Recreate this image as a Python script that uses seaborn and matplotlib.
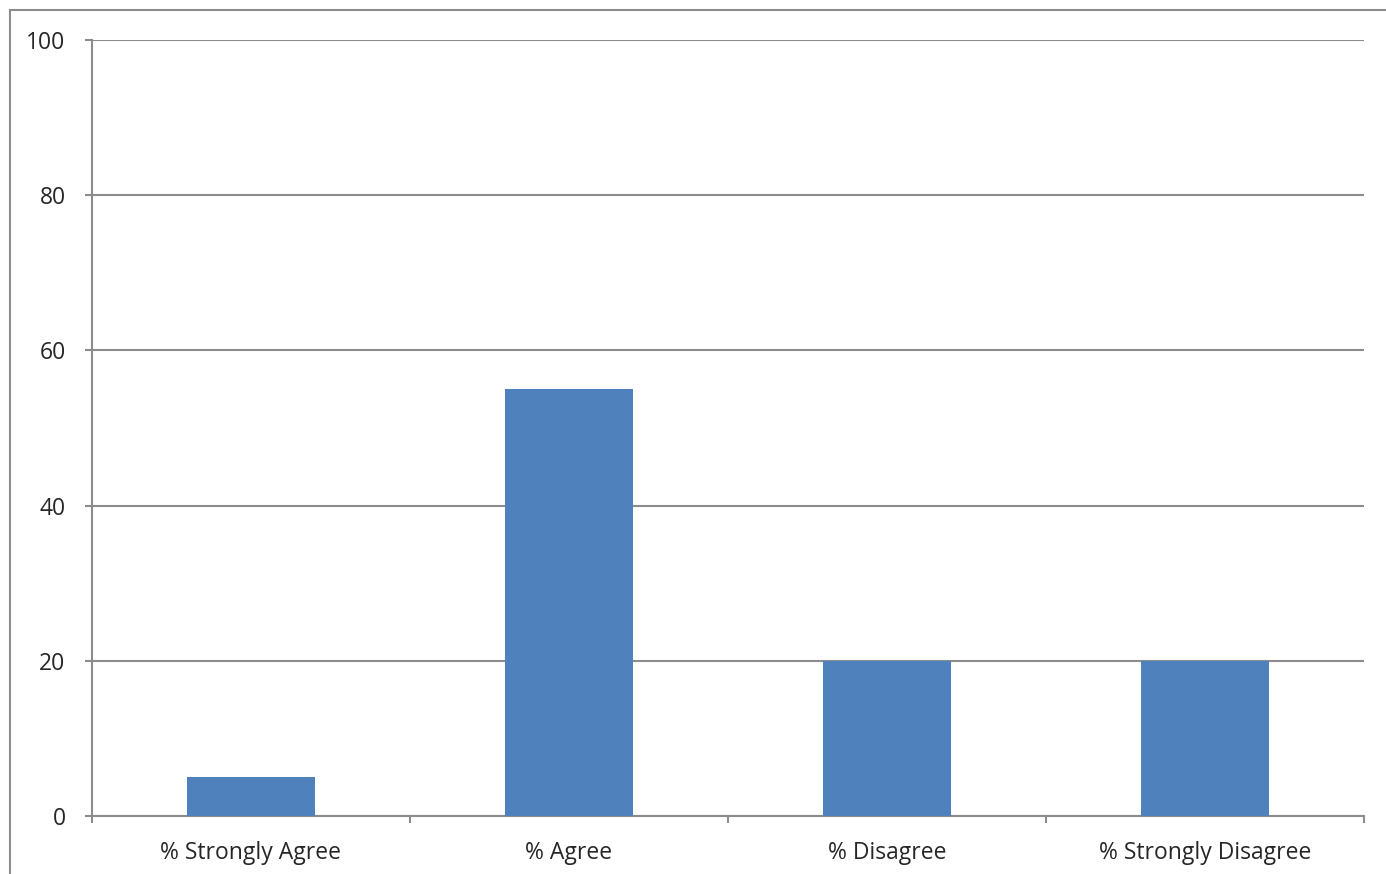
import matplotlib
matplotlib.use("Agg")
import matplotlib.pyplot as plt
import seaborn as sns
import pandas as pd
from matplotlib.patches import Rectangle

categories = ['% Strongly Agree', '% Agree', '% Disagree', '% Strongly Disagree']
values = [5, 55, 20, 20]
y_ticks = [0, 20, 40, 60, 80, 100]

df = pd.DataFrame({'cat': categories, 'val': values})

sns.set_style('white')
plt.rcParams['font.family'] = ['Open Sans', 'DejaVu Sans']

fig = plt.figure(figsize=(13.86, 8.74), dpi=100)
ax = fig.add_axes([92 / 1386, 1 - 816 / 874, (1364 - 92) / 1386, (816 - 40) / 874])

# outer chart frame (cut off at right and bottom like the reference)
fig.patches.append(Rectangle((10 / 1386, -0.1), 1.2, 1 - 10 / 874 + 0.1,
                             transform=fig.transFigure, fill=False,
                             edgecolor='#8c8c8c', linewidth=1.5))

sns.barplot(data=df, x='cat', y='val', color='#4F81BD', width=0.4,
            saturation=1, linewidth=0, ax=ax, zorder=3)

ax.set_ylim(0, 100)
ax.set_xlim(-0.5, 3.5)
ax.set_yticks(y_ticks)
ax.yaxis.grid(True, color='#8c8c8c', linewidth=1.5, zorder=0)
ax.set_axisbelow(True)

# ticks between categories, labels at the centres
ax.set_xticks([i - 0.5 for i in range(len(categories) + 1)])
ax.set_xticklabels([])
ax.set_xticks(range(len(categories)), minor=True)
ax.set_xticklabels(categories, minor=True)
ax.tick_params(axis='x', which='minor', bottom=False, length=0, pad=18, labelsize=16.5)
ax.tick_params(axis='x', which='major', bottom=True, length=5, width=1.5, color='#8c8c8c', direction='out')
ax.tick_params(axis='y', left=True, length=5, width=1.5, color='#8c8c8c', direction='out', pad=14, labelsize=16.5)

ax.set_xlabel('')
ax.set_ylabel('')
for s in ['top', 'right']:
    ax.spines[s].set_visible(False)
for s in ['left', 'bottom']:
    ax.spines[s].set_color('#8c8c8c')
    ax.spines[s].set_linewidth(1.5)

fig.savefig('out.png', dpi=100)
